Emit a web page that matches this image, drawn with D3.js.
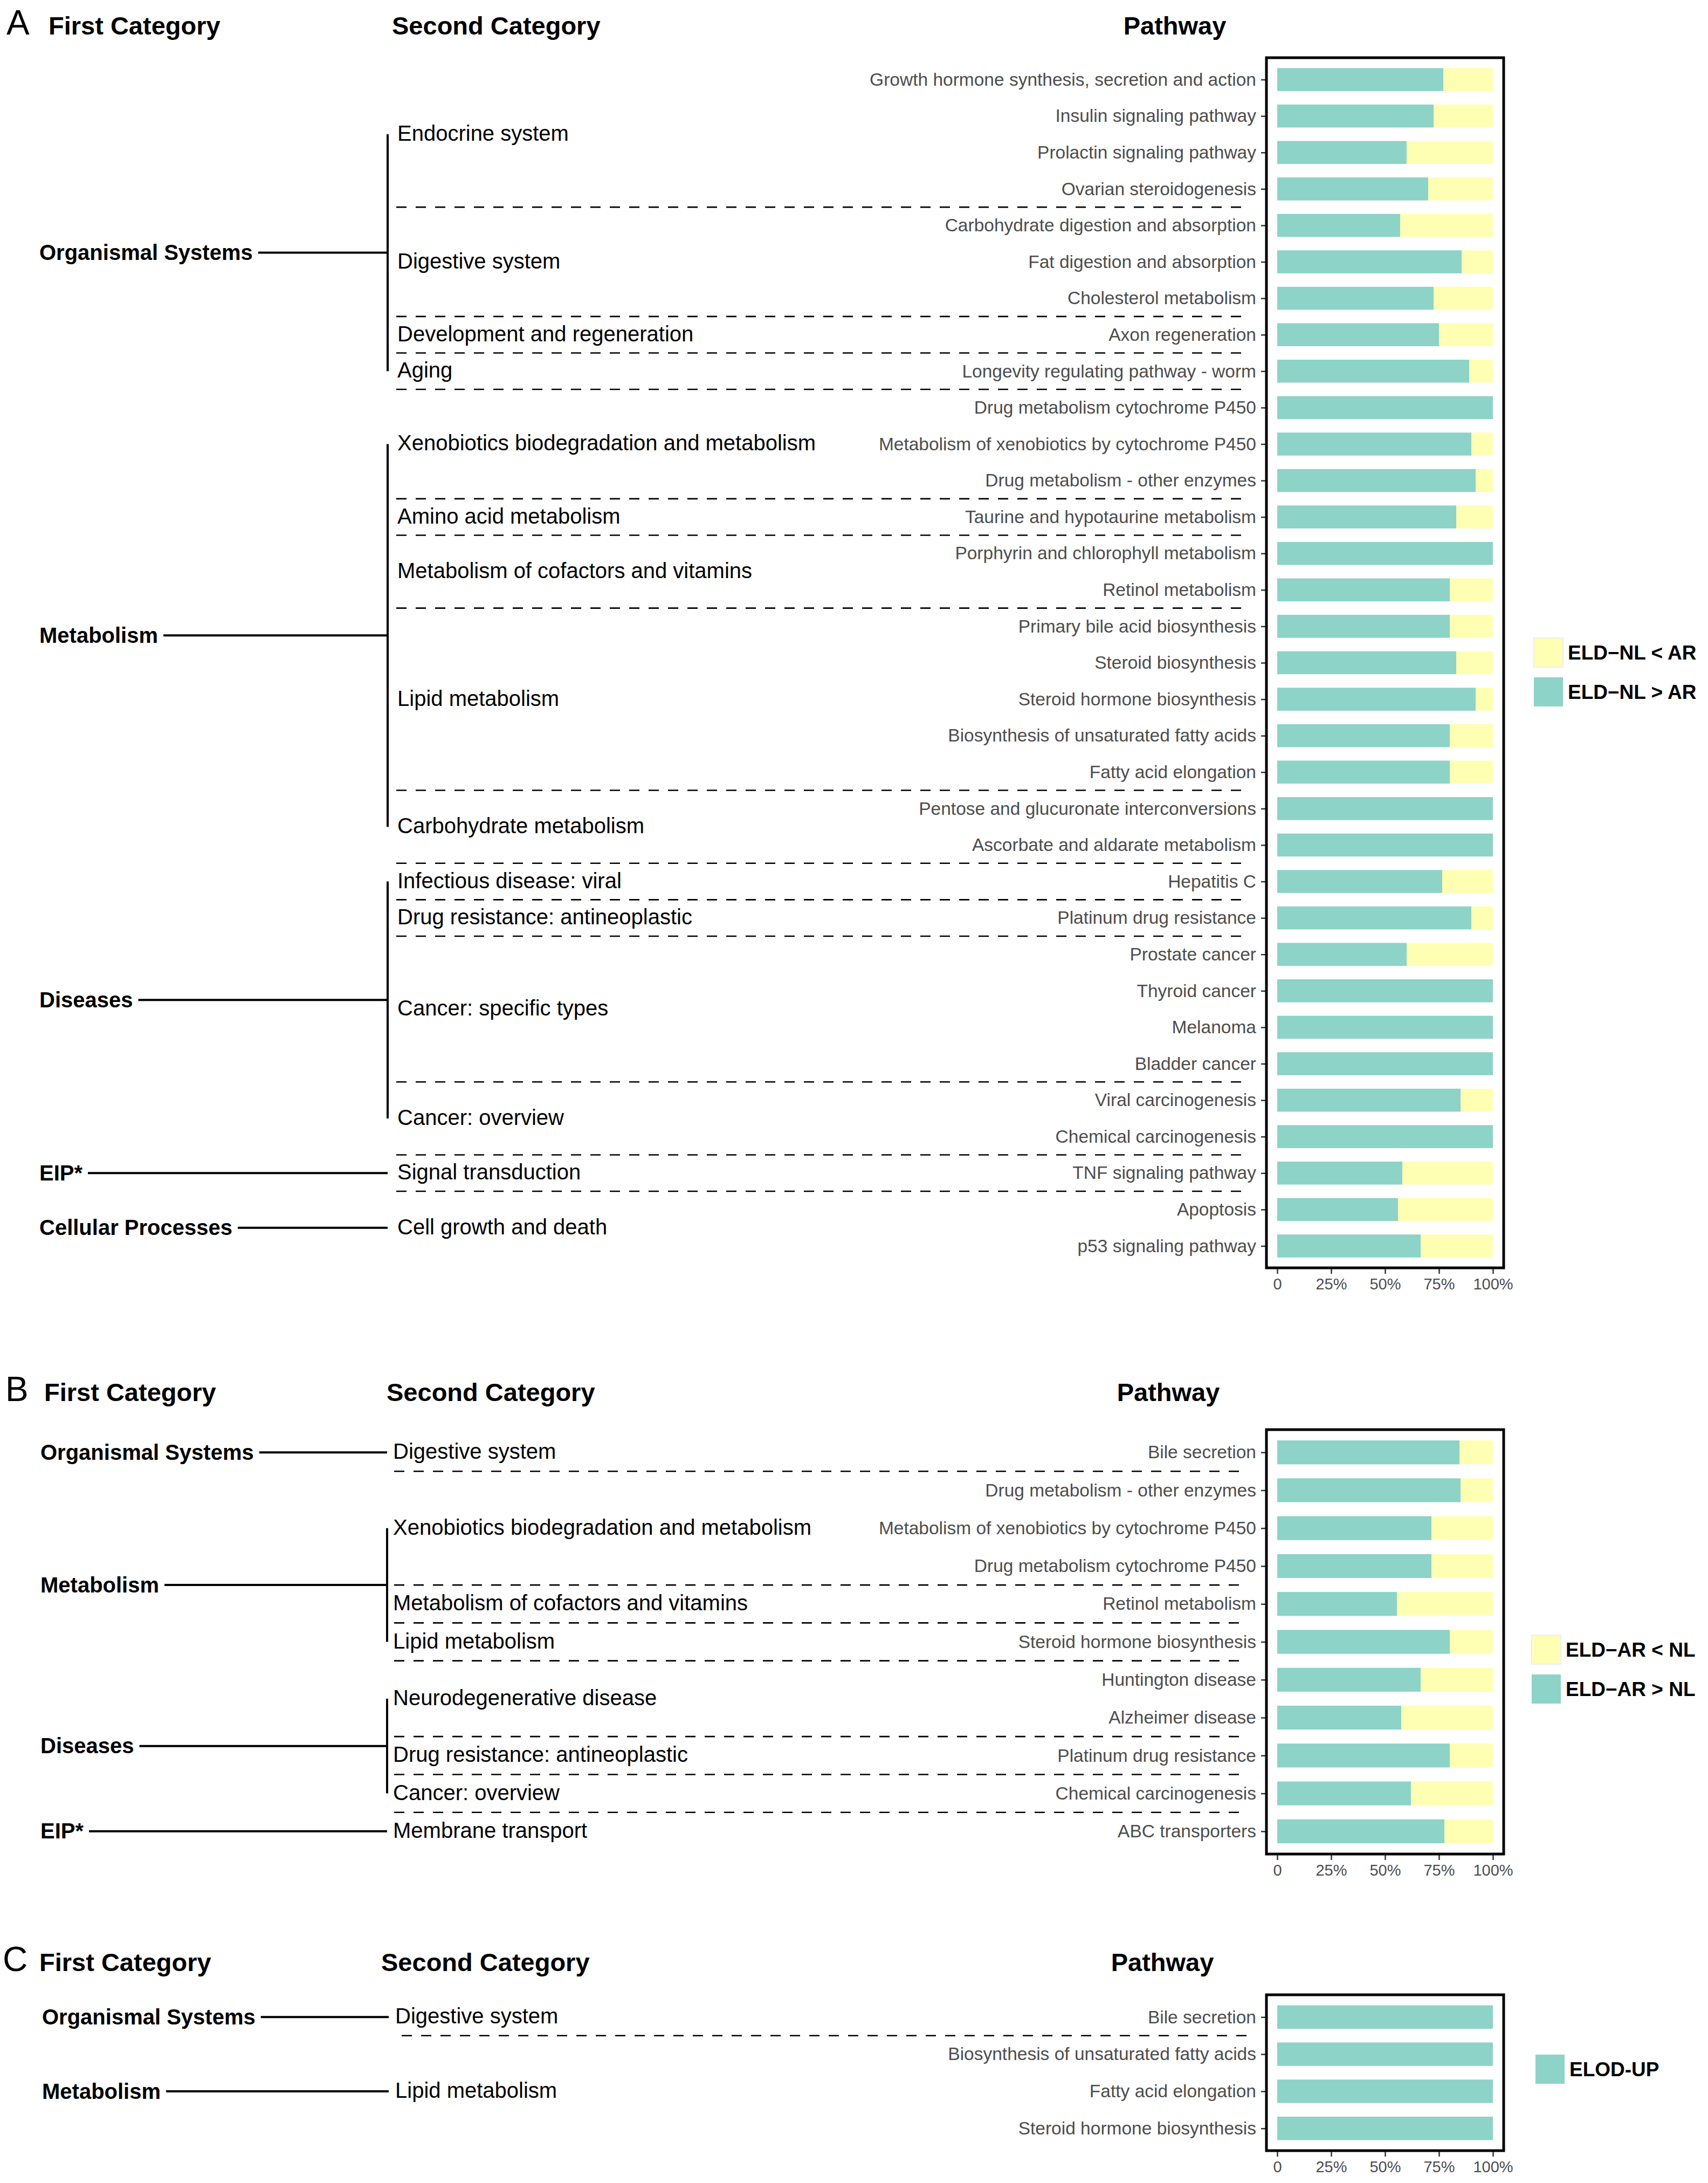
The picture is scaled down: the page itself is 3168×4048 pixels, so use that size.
<!DOCTYPE html>
<html>
<head>
<meta charset="utf-8">
<script src="https://cdn.jsdelivr.net/npm/d3@7"></script>
<style>
  body { margin: 0; background: #fff; }
  svg { display: block; font-family: "Liberation Sans", Arial, Helvetica, sans-serif; }
</style>
</head>
<body>
<div id="wrapper"></div>
<script>
// ---- Panel A
const pathwaysA = [
  "Growth hormone synthesis, secretion and action", "Insulin signaling pathway",
  "Prolactin signaling pathway", "Ovarian steroidogenesis",
  "Carbohydrate digestion and absorption", "Fat digestion and absorption",
  "Cholesterol metabolism", "Axon regeneration", "Longevity regulating pathway - worm",
  "Drug metabolism cytochrome P450", "Metabolism of xenobiotics by cytochrome P450",
  "Drug metabolism - other enzymes", "Taurine and hypotaurine metabolism",
  "Porphyrin and chlorophyll metabolism", "Retinol metabolism",
  "Primary bile acid biosynthesis", "Steroid biosynthesis", "Steroid hormone biosynthesis",
  "Biosynthesis of unsaturated fatty acids", "Fatty acid elongation",
  "Pentose and glucuronate interconversions", "Ascorbate and aldarate metabolism",
  "Hepatitis C", "Platinum drug resistance", "Prostate cancer", "Thyroid cancer",
  "Melanoma", "Bladder cancer", "Viral carcinogenesis", "Chemical carcinogenesis",
  "TNF signaling pathway", "Apoptosis", "p53 signaling pathway"
]
const upA = [
  0.77, 0.725, 0.60, 0.70, 0.57, 0.855, 0.725, 0.75, 0.89,
  1, 0.90, 0.92, 0.83, 1, 0.80, 0.80, 0.83, 0.92, 0.80, 0.80, 1, 1,
  0.765, 0.90, 0.60, 1, 1, 1, 0.85, 1,
  0.58, 0.56, 0.665
]
const secondA = [
  "Endocrine system", "Digestive system", "Development and regeneration", "Aging",
  "Xenobiotics biodegradation and metabolism", "Amino acid metabolism",
  "Metabolism of cofactors and vitamins", "Lipid metabolism", "Carbohydrate metabolism",
  "Infectious disease: viral", "Drug resistance: antineoplastic", "Cancer: specific types",
  "Cancer: overview", "Signal transduction", "Cell growth and death"
]
const secondSizeA = [4, 3, 1, 1, 3, 1, 2, 5, 2, 1, 1, 4, 2, 1, 2]
const firstA = ["Organismal Systems", "Metabolism", "Diseases", "EIP*", "Cellular Processes"]
const firstSizeA = [4, 5, 4, 1, 1]
const legendA = ["ELD\u2212NL < AR", "ELD\u2212NL > AR"]

// ---- Panel B
const pathwaysB = [
  "Bile secretion", "Drug metabolism - other enzymes",
  "Metabolism of xenobiotics by cytochrome P450", "Drug metabolism cytochrome P450",
  "Retinol metabolism", "Steroid hormone biosynthesis", "Huntington disease",
  "Alzheimer disease", "Platinum drug resistance", "Chemical carcinogenesis", "ABC transporters"
]
const upB = [0.845, 0.85, 0.715, 0.715, 0.555, 0.80, 0.665, 0.575, 0.80, 0.62, 0.775]
const secondB = [
  "Digestive system", "Xenobiotics biodegradation and metabolism",
  "Metabolism of cofactors and vitamins", "Lipid metabolism", "Neurodegenerative disease",
  "Drug resistance: antineoplastic", "Cancer: overview", "Membrane transport"
]
const secondSizeB = [1, 3, 1, 1, 2, 1, 1, 1]
const firstB = ["Organismal Systems", "Metabolism", "Diseases", "EIP*"]
const firstSizeB = [1, 3, 3, 1]
const legendB = ["ELD\u2212AR < NL", "ELD\u2212AR > NL"]

// ---- Panel C
const pathwaysC = [
  "Bile secretion", "Biosynthesis of unsaturated fatty acids",
  "Fatty acid elongation", "Steroid hormone biosynthesis"
]
const upC = [1, 1, 1, 1]
const secondC = ["Digestive system", "Lipid metabolism"]
const secondSizeC = [1, 3]
const firstC = ["Organismal Systems", "Metabolism"]
const firstSizeC = [1, 1]
const legendC = ["ELOD-UP"]

const colUp = "#8DD3C7"
const colDown = "#FFFFB3"

const dimensions = { width: 3168, height: 4048 }

const svg = d3.select("#wrapper")
  .append("svg")
    .attr("width", dimensions.width)
    .attr("height", dimensions.height)

svg.append("rect")
  .attr("width", dimensions.width)
  .attr("height", dimensions.height)
  .attr("fill", "#fff")

function drawPanel(p, lay) {
  const g = svg.append("g")

  const y = d3.scalePoint()
    .domain(p.pathways)
    .range([lay.top, lay.bottom])
    .padding(0.6)
  const step = y.step()

  const x = d3.scaleLinear()
    .domain([-0.05, 1.05])
    .range([2349, 2789])

  // headers
  g.append("text").attr("x", lay.letterX).attr("y", lay.headerY)
    .style("font-size", "64px").text(lay.letter)
  g.append("text").attr("x", lay.firstHeadX).attr("y", lay.headerY)
    .style("font-size", "47px").style("font-weight", "bold").text("First Category")
  g.append("text").attr("x", lay.secondHeadX).attr("y", lay.headerY)
    .style("font-size", "47px").style("font-weight", "bold").text("Second Category")
  g.append("text").attr("x", lay.pathwayX).attr("y", lay.headerY)
    .attr("text-anchor", "middle")
    .style("font-size", "47px").style("font-weight", "bold").text("Pathway")

  // bars
  const rows = p.pathways.map((d, i) => ({ name: d, up: p.up[i] }))
  const barH = step * 0.63

  g.append("g").selectAll("rect")
    .data(rows.filter(d => d.up > 0))
    .join("rect")
      .attr("x", x(0))
      .attr("y", d => y(d.name) - barH / 2)
      .attr("width", d => x(d.up) - x(0))
      .attr("height", barH)
      .attr("fill", colUp)

  g.append("g").selectAll("rect")
    .data(rows.filter(d => d.up < 1))
    .join("rect")
      .attr("x", d => x(d.up))
      .attr("y", d => y(d.name) - barH / 2)
      .attr("width", d => x(1) - x(d.up))
      .attr("height", barH)
      .attr("fill", colDown)

  // axes
  const yAxis = g.append("g")
    .attr("transform", `translate(${x(-0.05)},0)`)
    .call(d3.axisLeft(y).tickSize(10).tickPadding(9))
  yAxis.select(".domain").remove()
  yAxis.selectAll("line").attr("stroke", "#333").attr("stroke-width", 2.5)
  yAxis.selectAll("text")
    .attr("fill", "#4D4D4D")
    .style("font-size", "33.5px")
    .style("font-family", "'Liberation Sans', Arial, sans-serif")

  const xAxis = g.append("g")
    .attr("transform", `translate(0,${lay.bottom})`)
    .call(d3.axisBottom(x)
      .tickValues([0, 0.25, 0.5, 0.75, 1])
      .tickFormat(d => d === 0 ? "0" : d3.format(".0%")(d))
      .tickSize(11))
  xAxis.select(".domain").remove()
  xAxis.selectAll("line").attr("stroke", "#333").attr("stroke-width", 2.5)
  xAxis.selectAll("text")
    .attr("y", 19)
    .attr("fill", "#4D4D4D")
    .style("font-size", "29px")
    .style("font-family", "'Liberation Sans', Arial, sans-serif")

  // frame
  g.append("rect")
    .attr("x", x(-0.05))
    .attr("y", lay.top)
    .attr("width", x(1.05) - x(-0.05))
    .attr("height", lay.bottom - lay.top)
    .attr("fill", "none")
    .attr("stroke", "#000")
    .attr("stroke-width", 5)

  // second categories
  let r = 0
  const seconds = p.second.map((name, i) => {
    const sub = p.pathways.slice(r, r + p.secondSize[i])
    r += p.secondSize[i]
    return { name, last: sub[sub.length - 1], cy: (y(sub[0]) + y(sub[sub.length - 1])) / 2 }
  })

  g.append("g").selectAll("line")
    .data(seconds.slice(0, -1))
    .join("line")
      .attr("x1", lay.dashStart)
      .attr("x2", 2312)
      .attr("y1", d => y(d.last) + step / 2)
      .attr("y2", d => y(d.last) + step / 2)
      .attr("stroke", "#000")
      .attr("stroke-width", 2.6)
      .attr("stroke-dasharray", "19,17")

  g.append("g").selectAll("text")
    .data(seconds)
    .join("text")
      .attr("x", lay.secondX)
      .attr("y", d => d.cy)
      .attr("dy", "0.3em")
      .style("font-size", "40px")
      .text(d => d.name)

  // first categories
  let s = 0
  const firsts = p.first.map((name, i) => {
    const sub = seconds.slice(s, s + p.firstSize[i])
    s += p.firstSize[i]
    const y0 = sub[0].cy, y1 = sub[sub.length - 1].cy
    return { name, y0, y1, cy: (y0 + y1) / 2 }
  })

  const fg = g.append("g").selectAll("g")
    .data(firsts)
    .join("g")

  const labels = fg.append("text")
    .attr("x", lay.firstX)
    .attr("y", d => d.cy)
    .attr("dy", "0.34em")
    .style("font-size", "40px")
    .style("font-weight", "bold")
    .text(d => d.name)

  labels.each(function (d) { d.textEnd = lay.firstX + this.getComputedTextLength() })

  fg.append("line")
    .attr("x1", d => d.textEnd + 10)
    .attr("x2", lay.trunkX)
    .attr("y1", d => d.cy)
    .attr("y2", d => d.cy)
    .attr("stroke", "#000")
    .attr("stroke-width", 4)

  fg.filter(d => d.y1 > d.y0)
    .append("line")
      .attr("x1", lay.trunkX)
      .attr("x2", lay.trunkX)
      .attr("y1", d => d.y0)
      .attr("y2", d => d.y1)
      .attr("stroke", "#000")
      .attr("stroke-width", 4)

  // legend
  const leg = g.append("g").selectAll("g")
    .data(p.legend)
    .join("g")
      .attr("transform", (d, i) => `translate(${lay.legendX},${lay.legendY + i * 73})`)
  leg.append("rect")
    .attr("width", 54)
    .attr("height", 54)
    .attr("fill", d => d.color)
    .attr("stroke", d => d.color === colDown ? "#EEEEEE" : "none")
    .attr("stroke-width", 2)
  leg.append("text")
    .attr("x", 63)
    .attr("y", 27)
    .attr("dy", "0.36em")
    .style("font-size", "37px")
    .style("font-weight", "bold")
    .text(d => d.label)
}

drawPanel(
  { pathways: pathwaysA, up: upA, second: secondA, secondSize: secondSizeA,
    first: firstA, firstSize: firstSizeA,
    legend: [{ label: legendA[0], color: colDown }, { label: legendA[1], color: colUp }] },
  { letter: "A", top: 107, bottom: 2351, headerY: 64, letterX: 12, firstHeadX: 90,
    secondHeadX: 727, pathwayX: 2179, firstX: 73, trunkX: 719, secondX: 737,
    dashStart: 735, legendX: 2845, legendY: 1183 }
)

drawPanel(
  { pathways: pathwaysB, up: upB, second: secondB, secondSize: secondSizeB,
    first: firstB, firstSize: firstSizeB,
    legend: [{ label: legendB[0], color: colDown }, { label: legendB[1], color: colUp }] },
  { letter: "B", top: 2651, bottom: 3438, headerY: 2598, letterX: 10, firstHeadX: 82,
    secondHeadX: 717, pathwayX: 2167, firstX: 75, trunkX: 718, secondX: 729,
    dashStart: 731, legendX: 2841, legendY: 3032 }
)

drawPanel(
  { pathways: pathwaysC, up: upC, second: secondC, secondSize: secondSizeC,
    first: firstC, firstSize: firstSizeC,
    legend: [{ label: legendC[0], color: colUp }] },
  { letter: "C", top: 3699, bottom: 3988, headerY: 3655, letterX: 5, firstHeadX: 73,
    secondHeadX: 707, pathwayX: 2156, firstX: 78, trunkX: 721, secondX: 733,
    dashStart: 745, legendX: 2848, legendY: 3810 }
)
</script>
</body>
</html>
